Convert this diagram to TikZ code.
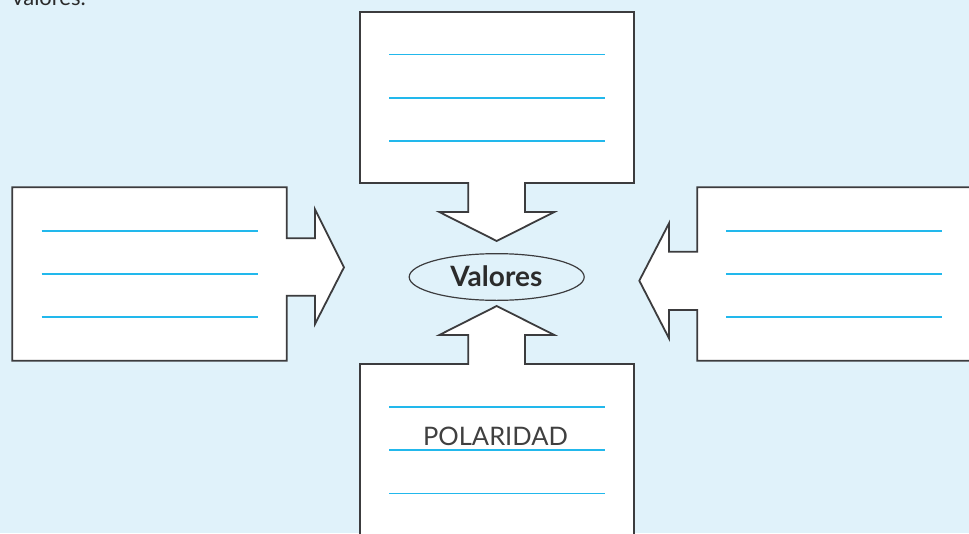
\documentclass[tikz,border=0pt]{standalone}
\usepackage{fontspec}
\setmainfont{Lato}
\usetikzlibrary{shapes.geometric}
\begin{document}
\begin{tikzpicture}[x=1pt,y=-1pt,
  boxshape/.style={fill=white,draw=boxgray,line width=1.8pt,line join=miter},
  wline/.style={draw=lineblue,line width=1.6pt},
  txt/.style={text=textgray,inner sep=0pt}]
\definecolor{bgblue}{HTML}{E0F2FA}
\definecolor{lineblue}{HTML}{22B8EC}
\definecolor{boxgray}{HTML}{3C3C3E}
\definecolor{textgray}{HTML}{2B2B2B}
\definecolor{lightgray}{HTML}{404040}
\useasboundingbox (0,0) rectangle (969,533);
\clip (0,0) rectangle (969,533);
\fill[bgblue] (0,0) rectangle (969,533);
% top-left cut text
\node[txt,anchor=base west,font=\fontsize{22}{26}\selectfont] (intro) at (12,5) {valores.};
% top box
\path[boxshape] (360,12) -- (634,12) -- (634,183) -- (525,183) -- (525,212) -- (554.3,212) -- (496.7,241) -- (439.3,212) -- (468.3,212) -- (468.3,183) -- (360,183) -- cycle;
% bottom box
\path[boxshape] (360,545) -- (360,364) -- (468.3,364) -- (468.3,335) -- (439.3,335) -- (496.7,306) -- (554.3,335) -- (525,335) -- (525,364) -- (634,364) -- (634,545) -- cycle;
% left box
\path[boxshape] (12.3,187.3) -- (286.7,187.3) -- (286.7,238.3) -- (315,238.3) -- (315,209.3) -- (344,267.3) -- (315,324) -- (315,295.7) -- (286.7,295.7) -- (286.7,360.7) -- (12.3,360.7) -- cycle;
% right box
\path[boxshape] (985,187.3) -- (697.3,187.3) -- (697.3,251.7) -- (669,251.7) -- (669,223.3) -- (639.3,280.7) -- (669,338.3) -- (669,310) -- (697.3,310) -- (697.3,360.7) -- (985,360.7) -- cycle;
% writing lines
\foreach \y in {54.3,97.7,141} {\draw[wline] (389,\y) -- (605,\y);}
\foreach \y in {406.7,450,493.3} {\draw[wline] (389,\y) -- (605,\y);}
\foreach \y in {230.7,274,316.7} {\draw[wline] (41.7,\y) -- (257.7,\y);}
\foreach \y in {230.7,274,316.7} {\draw[wline] (726,\y) -- (942.3,\y);}
% labels
\node[txt,text=lightgray,anchor=base,font=\fontsize{25.5}{30}\selectfont] (pol) at (495.5,445) {POLARIDAD};
\node[draw=boxgray,line width=1.2pt,ellipse,minimum width=175pt,minimum height=46.7pt,inner sep=0pt] (val) at (496.7,277) {};
\node[txt,anchor=base,font=\fontsize{28}{32}\selectfont\bfseries] (valtxt) at (496.3,286.7) {Valores};
\end{tikzpicture}
\end{document}
